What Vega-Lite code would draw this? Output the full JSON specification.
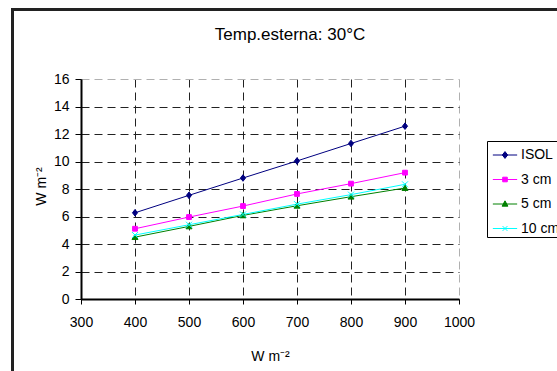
{
  "$schema": "https://vega.github.io/schema/vega-lite/v6.json",
  "autosize": {"type": "none"},
  "width": 378,
  "height": 220,
  "padding": {"left": 81, "top": 79, "right": 98, "bottom": 72},
  "background": "white",
  "config": {
    "view": {"stroke": null},
    "font": "Liberation Sans",
    "axis": {"labelFont": "Liberation Sans", "titleFont": "Liberation Sans", "labelColor": "black", "titleColor": "black", "labelFontSize": 14, "titleFontSize": 14, "titleFontWeight": "normal"}
  },
  "title": {
    "text": "Temp.esterna: 30°C",
    "fontSize": 17,
    "font": "Liberation Sans",
    "fontWeight": "normal",
    "color": "black",
    "anchor": "middle",
    "frame": "group",
    "baseline": "alphabetic",
    "dx": 20,
    "offset": -48
  },
  "data": {
    "values": [
      {"irr": 400, "series": "ISOL", "w": 6.27},
      {"irr": 500, "series": "ISOL", "w": 7.54},
      {"irr": 600, "series": "ISOL", "w": 8.80},
      {"irr": 700, "series": "ISOL", "w": 10.04},
      {"irr": 800, "series": "ISOL", "w": 11.31},
      {"irr": 900, "series": "ISOL", "w": 12.57},
      {"irr": 400, "series": "3 cm", "w": 5.11},
      {"irr": 500, "series": "3 cm", "w": 5.96},
      {"irr": 600, "series": "3 cm", "w": 6.76},
      {"irr": 700, "series": "3 cm", "w": 7.64},
      {"irr": 800, "series": "3 cm", "w": 8.39},
      {"irr": 900, "series": "3 cm", "w": 9.19},
      {"irr": 400, "series": "5 cm", "w": 4.50},
      {"irr": 500, "series": "5 cm", "w": 5.28},
      {"irr": 600, "series": "5 cm", "w": 6.08},
      {"irr": 700, "series": "5 cm", "w": 6.78},
      {"irr": 800, "series": "5 cm", "w": 7.44},
      {"irr": 900, "series": "5 cm", "w": 8.07},
      {"irr": 400, "series": "10 cm", "w": 4.65},
      {"irr": 500, "series": "10 cm", "w": 5.40},
      {"irr": 600, "series": "10 cm", "w": 6.15},
      {"irr": 700, "series": "10 cm", "w": 6.90},
      {"irr": 800, "series": "10 cm", "w": 7.59},
      {"irr": 900, "series": "10 cm", "w": 8.34}
    ]
  },
  "encoding": {
    "x": {
      "field": "irr", "type": "quantitative",
      "scale": {"domain": [300, 1000], "nice": false, "zero": false},
      "axis": {
        "values": [300, 400, 500, 600, 700, 800, 900, 1000],
        "format": "d",
        "title": "W m⁻²",
        "grid": true,
        "gridDash": [8, 5],
        "gridColor": {"condition": {"test": "datum.value === 1000", "value": "#b0b0b0"}, "value": "#222222"},
        "gridWidth": 1,
        "domainColor": "black",
        "domainWidth": 2,
        "tickColor": "black",
        "tickSize": 5,
        "tickWidth": 1,
        "labelPadding": 11,
        "labelFlush": false,
        "labelOverlap": false,
        "titleBaseline": "alphabetic",
        "titleY": 61
      }
    },
    "y": {
      "field": "w", "type": "quantitative",
      "scale": {"domain": [0, 16], "nice": false},
      "axis": {
        "values": [0, 2, 4, 6, 8, 10, 12, 14, 16],
        "title": "W m⁻²",
        "grid": true,
        "gridDash": [8, 5],
        "gridColor": {"condition": {"test": "datum.value === 16", "value": "#b0b0b0"}, "value": "#222222"},
        "gridWidth": 1,
        "domainColor": "black",
        "domainWidth": 2,
        "tickColor": "black",
        "tickSize": 6,
        "tickWidth": 1,
        "labelPadding": 6,
        "labelOverlap": false,
        "titleBaseline": "alphabetic",
        "titleX": -36,
        "titleY": 107
      }
    }
  },
  "layer": [
    {
      "mark": {"type": "rect", "fill": "transparent", "stroke": "#222222", "strokeWidth": 2, "clip": false},
      "encoding": {
        "x": {"datum": 172.8},
        "x2": {"datum": 1300},
        "y": {"datum": 21.05},
        "y2": {"datum": -12}
      }
    },
    {
      "mark": {"type": "line", "strokeWidth": 1},
      "encoding": {
        "color": {
          "field": "series", "type": "nominal",
          "scale": {"domain": ["ISOL", "3 cm", "5 cm", "10 cm"], "range": ["#000080", "#FF00FF", "#008000", "#00FFFF"]},
          "legend": {
            "title": null,
            "orient": "none",
            "legendX": 406,
            "legendY": 62,
            "direction": "vertical",
            "strokeColor": "black",
            "fillColor": "white",
            "padding": 1,
            "rowPadding": 4.5,
            "symbolSize": 590,
            "symbolOffset": 4,
            "labelOffset": 3,
            "labelFontSize": 14,
            "labelFont": "Liberation Sans",
            "labelColor": "black",
            "labelLimit": 200,
            "encode": {
              "symbols": {
                "update": {
                  "shape": {"signal": "datum.value === 'ISOL' ? 'M-1,0H1M0,-0.28L0.22,0L0,0.28L-0.22,0Z' : datum.value === '3 cm' ? 'M-1,0H1M-0.19,-0.19H0.19V0.19H-0.19Z' : datum.value === '5 cm' ? 'M-1,0H1M0,-0.26L0.24,0.18H-0.24Z' : 'M-1,0H1M-0.2,-0.2L0.2,0.2M0.2,-0.2L-0.2,0.2'"},
                  "fill": {"scale": "color", "field": "value"},
                  "stroke": {"scale": "color", "field": "value"},
                  "strokeWidth": {"value": 1},
                  "opacity": {"value": 1}
                }
              }
            }
          }
        }
      }
    },
    {
      "transform": [{"filter": "datum.series === 'ISOL'"}],
      "mark": {"type": "point", "filled": true, "color": "#000080", "stroke": "#000080", "strokeWidth": 1, "opacity": 1, "size": 36, "shape": "M0,-1.1L0.85,0L0,1.1L-0.85,0Z"}
    },
    {
      "transform": [{"filter": "datum.series === '3 cm'"}],
      "mark": {"type": "point", "filled": true, "color": "#FF00FF", "stroke": "#FF00FF", "strokeWidth": 1, "opacity": 1, "size": 36, "shape": "M-0.8,-0.8H0.8V0.8H-0.8Z"}
    },
    {
      "transform": [{"filter": "datum.series === '5 cm'"}],
      "mark": {"type": "point", "filled": true, "color": "#008000", "stroke": "#008000", "strokeWidth": 1, "opacity": 1, "size": 36, "shape": "M0,-1L1,0.8H-1Z"}
    },
    {
      "transform": [{"filter": "datum.series === '10 cm'"}],
      "mark": {"type": "point", "filled": true, "color": "#00FFFF", "stroke": "#00FFFF", "strokeWidth": 1, "opacity": 1, "size": 36, "shape": "M-1,-1L1,1M1,-1L-1,1"}
    }
  ]
}
